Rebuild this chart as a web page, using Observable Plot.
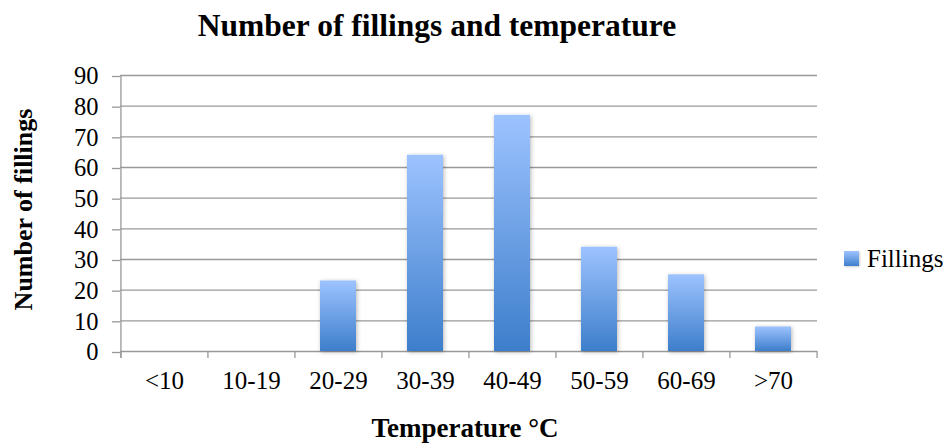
<!DOCTYPE html>
<html><head><meta charset="utf-8">
<script src="https://cdn.jsdelivr.net/npm/d3@7"></script>
<script src="https://cdn.jsdelivr.net/npm/@observablehq/plot@0.6"></script>
<style>
body{margin:0;background:#fff;}
#wrap{position:relative;width:952px;height:443px;font-family:"Liberation Serif",serif;}
#wrap svg{position:absolute;left:0;top:0;z-index:0;}
#legend{position:absolute;left:844px;top:244px;display:flex;align-items:center;font-size:25px;color:#000;line-height:29px;z-index:2;}
#legend .sw{width:15px;height:15px;background:linear-gradient(#9dc3ff,#3f7fcc);margin-right:8px;box-shadow:1px 1px 2px rgba(0,0,0,.2);}
</style></head>
<body>
<div id="wrap"><div id="legend"><span class="sw"></span><span id="legtext"></span></div></div>
<script>
const categories = ["<10", "10-19", "20-29", "30-39", "40-49", "50-59", "60-69", ">70"];
const fillings = [0, 0, 23, 64, 77, 34, 25, 8];
const yTicks = [0, 10, 20, 30, 40, 50, 60, 70, 80, 90];
const titleText = "Number of fillings and temperature";
const xLabel = "Temperature °C";
const yLabel = "Number of fillings";
const seriesName = "Fillings";

const data = categories.map((c, i) => ({range: c, count: fillings[i]}));

const W = 952, H = 443;
const mL = 120, mR = 135, mT = 75, mB = 92;
const step = (W - mL - mR) / categories.length;
const gray = "#999";

const plot = Plot.plot({
  width: W, height: H,
  marginLeft: mL, marginRight: mR, marginTop: mT, marginBottom: mB,
  style: {fontFamily: "Liberation Serif", fontSize: "24px", color: "#000", background: "#fff", overflow: "visible"},
  x: {domain: categories, paddingInner: 0.59, paddingOuter: 0.295, label: null},
  y: {domain: [0, 90], ticks: yTicks, label: null},
  marks: [
    Plot.gridY(yTicks, {stroke: gray, strokeOpacity: 1, strokeWidth: 1.3}),
    Plot.axisY(yTicks, {tickSize: 8, tickPadding: 14, stroke: gray, strokeWidth: 1.3, fontSize: 24.5, label: null, dy: 1}),
    Plot.axisX({tickSize: 0, tickPadding: 20, fontSize: 25, label: null}),
    Plot.ruleX(categories, {x: d => d, dx: -step / 2, y1: 0, y2: 0, insetTop: 7, stroke: gray, strokeWidth: 1.3}),
    Plot.ruleX([categories[categories.length - 1]], {x: d => d, dx: step / 2, y1: 0, y2: 0, insetTop: 7, stroke: gray, strokeWidth: 1.3}),
    Plot.ruleX([categories[0]], {x: d => d, dx: -step / 2, y1: 0, y2: 90, insetTop: 7, stroke: gray, strokeWidth: 1.3}),
    Plot.barY(data, {x: "range", y: "count", fill: "url(#barGrad)", filter: d => d.count > 0}),
    Plot.text([titleText], {frameAnchor: "top", textAnchor: "middle", lineAnchor: "middle", dx: -32, dy: -50, fontSize: 31.5, fontWeight: "bold"}),
    Plot.text([xLabel], {frameAnchor: "bottom", textAnchor: "middle", lineAnchor: "middle", dx: -4, dy: 77, fontSize: 27, fontWeight: "bold"}),
    Plot.text([yLabel], {frameAnchor: "left", textAnchor: "middle", lineAnchor: "middle", dx: -97, dy: -4, rotate: -90, fontSize: 26, fontWeight: "bold"})
  ]
});

const ns = "http://www.w3.org/2000/svg";
const defs = document.createElementNS(ns, "defs");
defs.innerHTML = `
  <linearGradient id="barGrad" x1="0" y1="0" x2="0" y2="1">
    <stop offset="0" stop-color="#9dc3ff"/>
    <stop offset="1" stop-color="#3d7ecb"/>
  </linearGradient>
  <filter id="barShadow" x="-30%" y="-10%" width="160%" height="120%">
    <feDropShadow dx="1" dy="1" stdDeviation="2" flood-color="#000" flood-opacity="0.28"/>
  </filter>`;
plot.insertBefore(defs, plot.firstChild);
plot.querySelectorAll("rect").forEach(r => {
  if (r.getAttribute("fill") === "url(#barGrad)" || (r.parentNode && r.parentNode.getAttribute("fill") === "url(#barGrad)")) {
    r.setAttribute("filter", "url(#barShadow)");
  }
});
const wrap = document.getElementById("wrap");
wrap.insertBefore(plot, wrap.firstChild);
document.getElementById("legtext").textContent = seriesName;
</script>
</body></html>
